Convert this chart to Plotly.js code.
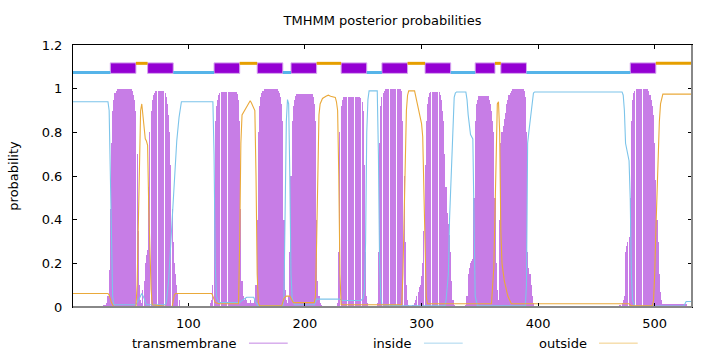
<!DOCTYPE html>
<html><head><meta charset="utf-8">
<script src="https://cdn.plot.ly/plotly-3.0.1.min.js"></script>
<style>html,body{margin:0;padding:0;background:#fff}#chart{width:720px;height:352px}</style>
</head><body><div id="chart"></div>
<script>
// ---- data ----
const seqLength = 532;
const xTicks = [100, 200, 300, 400, 500];
const yTicks = [0, 0.2, 0.4, 0.6, 0.8, 1, 1.2];
const seriesNames = ['transmembrane', 'inside', 'outside'];

// transmembrane posterior (impulses), per residue, stored as contiguous runs
const tmRunStarts = [27, 119, 228, 262, 292, 338, 470];
const tmRunValues = [
  [0.01,0.01,0.01,0.02,0.05,0.17,0.45,0.75,0.9,0.95,0.98,0.99,
   1,1,1,1,1,1,1,1,1,1,1,1,1,
   0.99,0.97,0.95,0.9,0.7,0.35,0.1,0.03,0.02,0.08,0.12,0.2,0.24,0.26,
   0.55,0.8,0.9,0.95,0.97,0.98,0.99,0.99,0.99,0.99,0.99,0.99,0.99,0.99,
   0.98,0.96,0.93,0.88,0.8,0.65,0.45,0.3,0.2,0.15,0.1,0.06,0.03],
  [0.02,0.03,0.1,0.5,0.85,0.92,0.95,0.97,0.98,
   0.985,0.985,0.985,0.985,0.985,0.985,0.985,0.985,0.985,0.985,0.985,0.985,0.985,0.985,
   0.975,0.95,0.85,0.45,0.12,0.05,0.03,0.04,0.03,0.02,0.02,0.03,0.02,0.02,0.02,0.03,0.1,
   0.4,0.8,0.92,0.96,0.98,0.99,
   1,1,1,1,1,1,1,1,1,1,1,1,
   0.99,0.98,0.96,0.93,0.85,0.4,0.08,0.03,0.02,0.05,0.25,
   0.6,0.85,0.92,0.95,0.965,
   0.975,0.975,0.975,0.975,0.975,0.975,0.975,0.975,0.975,0.975,0.975,0.975,0.975,0.975,
   0.96,0.93,0.85,0.4,0.12,0.05,0.02,0.01],
  [0.02,0.25,0.8,0.92,0.95,
   0.963,0.963,0.963,0.963,0.963,0.963,0.963,0.963,0.963,0.963,0.963,0.963,0.963,0.963,0.963,
   0.955,0.94,0.9,0.65,0.25,0.05,0.02],
  [0.02,0.25,0.75,0.92,0.96,0.98,0.99,
   1,1,1,1,1,1,1,1,1,1,1,1,1,1,
   0.99,0.85,0.6,0.3,0.1,0.03,0.01],
  [0.01,0.01,0.02,0.03,0.05,0.07,0.09,0.1,0.14,0.2,0.35,0.65,0.85,0.93,0.96,0.98,
   0.985,0.985,0.985,0.985,0.985,0.985,0.985,0.985,
   0.97,0.95,0.9,0.85,0.7,0.55,0.43,0.38,0.33,0.25,0.12,0.03,0.01],
  [0.01,0.05,0.15,0.18,0.2,0.21,0.22,0.5,0.85,0.93,0.95,
   0.967,0.967,0.967,0.967,0.967,0.967,0.967,0.967,0.967,
   0.95,0.93,0.9,0.85,0.8,0.5,0.2,0.08,0.03,
   0.4,0.75,0.8,0.83,0.86,0.89,0.93,0.95,0.97,0.98,0.99,
   1,1,1,1,1,1,1,1,1,1,
   0.99,0.96,0.8,0.25,0.18,0.15,0.1,0.05,0.02],
  [0.01,0.01,0.02,0.03,0.05,0.25,0.28,0.3,0.32,0.5,0.85,0.95,0.98,0.99,
   1,1,1,1,1,1,1,1,1,1,1,
   0.99,0.97,0.95,0.92,0.88,0.75,0.58,0.4,0.3,0.15,0.07,0.03,
   0.014,0.014,0.014,0.014,0.014,0.014,0.014,0.014,0.014,0.014,0.014,
   0.014,0.014,0.014,0.014,0.014,0.014,0.014,0.014,0.014,0.014]
];

// inside posterior (line), read at breakpoints
const insideX = [1,31,32,33,34,35,36,55,58,60,62,64,80,81,83,85,87,88,90,92,94,121,122,123,124,126,144,146,150,156,158,160,181,182,183,184,185,186,187,188,189,191,208,210,230,232,248,250,251,252,253,254,255,262,263,264,265,266,283,320,321,323,324,325,326,327,328,329,330,338,339,340,341,342,344,345,346,348,389,390,391,392,393,394,395,396,397,472,473,474,475,477,478,479,480,481,483,525,527,532];
const insideY = [0.94,0.94,0.9,0.6,0.2,0.05,0.01,0.01,0.04,0.062,0.04,0.01,0.01,0.02,0.12,0.3,0.52,0.62,0.76,0.87,0.94,0.94,0.7,0.2,0.05,0.02,0.02,0.03,0.045,0.045,0.02,0.005,0.005,0.05,0.4,0.85,0.95,0.93,0.6,0.15,0.04,0.01,0.01,0.036,0.036,0.03,0.03,0.04,0.08,0.3,0.8,0.95,0.99,0.99,0.7,0.2,0.05,0.01,0.005,0.005,0.03,0.15,0.4,0.55,0.75,0.9,0.96,0.98,0.985,0.985,0.95,0.88,0.82,0.79,0.77,0.4,0.05,0.005,0.005,0.1,0.75,0.8,0.85,0.9,0.95,0.98,0.985,0.985,0.97,0.9,0.75,0.7,0.67,0.5,0.15,0.03,0.003,0.005,0.025,0.025];

// outside posterior (line), read at breakpoints
const outsideX = [1,31,32,34,36,55,56,57,58,59,60,61,62,63,64,65,66,67,68,69,86,87,88,89,120,121,123,126,143,144,145,146,148,150,152,153,154,156,157,158,159,160,161,180,182,184,187,189,190,208,209,210,211,212,213,215,218,220,222,226,227,228,229,230,231,283,284,285,286,287,288,289,294,296,298,300,301,302,303,304,305,360,361,362,363,364,365,366,367,368,369,371,374,377,478,480,498,499,500,501,502,503,504,505,506,507,532];
const outsideY = [0.062,0.062,0.055,0.02,0,0,0.1,0.4,0.75,0.9,0.93,0.88,0.82,0.77,0.76,0.74,0.45,0.2,0.08,0.01,0,0.03,0.055,0.062,0.062,0.05,0.02,0.015,0.015,0.3,0.75,0.88,0.9,0.92,0.935,0.945,0.935,0.91,0.9,0.6,0.15,0.02,0.005,0.005,0.04,0.05,0.05,0.03,0.02,0.02,0.05,0.3,0.7,0.88,0.93,0.955,0.965,0.97,0.965,0.96,0.94,0.9,0.6,0.15,0.01,0.01,0.15,0.4,0.7,0.9,0.97,0.99,0.99,0.94,0.9,0.84,0.78,0.55,0.25,0.05,0.015,0.015,0.1,0.18,0.43,0.73,0.93,0.94,0.8,0.35,0.2,0.12,0.05,0.015,0.015,0.005,0.005,0.03,0.15,0.35,0.55,0.75,0.85,0.93,0.96,0.975,0.975];

// predicted topology (top strip)
const tmSegStart  = [33, 65, 122, 159, 188, 231, 266, 303, 346, 368, 479];
const tmSegEnd    = [55, 87, 144, 181, 210, 253, 288, 325, 363, 390, 501];
const inSegStart  = [1, 87, 181, 253, 325, 390];
const inSegEnd    = [33, 122, 188, 266, 346, 479];
const outSegStart = [55, 144, 210, 288, 363, 501];
const outSegEnd   = [65, 159, 231, 303, 368, 532];

// ---- build traces ----
const tmX = [], tmY = [];
tmRunStarts.forEach((s, k) => tmRunValues[k].forEach((v, i) => { tmX.push(s + i); tmY.push(v); }));

function segLine(starts, ends) {
  const x = [];
  starts.forEach((s, i) => { x.push(s, ends[i], null); });
  return x;
}
const inLineX = segLine(inSegStart, inSegEnd);
const outLineX = segLine(outSegStart, outSegEnd);

const traces = [
  { type: 'bar', x: tmX, y: tmY, width: 0.93, name: seriesNames[0],
    marker: { color: '#c77de6', line: { width: 0 } }, hoverinfo: 'x+y' },
  { type: 'scatter', mode: 'lines', x: insideX, y: insideY, name: seriesNames[1],
    line: { color: '#7cc4ea', width: 1.1 } },
  { type: 'scatter', mode: 'lines', x: outsideX, y: outsideY, name: seriesNames[2],
    line: { color: '#eaa93a', width: 1.1 } },
  { type: 'scatter', mode: 'lines', x: inLineX, y: inLineX.map(v => v === null ? null : 1.074),
    line: { color: '#56b4e9', width: 3 }, hoverinfo: 'skip', connectgaps: false },
  { type: 'scatter', mode: 'lines', x: outLineX, y: outLineX.map(v => v === null ? null : 1.116),
    line: { color: '#e69f00', width: 3 }, hoverinfo: 'skip', connectgaps: false },
  { type: 'bar', x: tmSegStart.map((s, i) => (s + tmSegEnd[i]) / 2),
    width: tmSegStart.map((s, i) => tmSegEnd[i] - s),
    y: tmSegStart.map(() => 0.048), base: 1.07,
    marker: { color: '#9400d3', line: { color: '#d6a6ee', width: 1 } }, hoverinfo: 'skip' }
];

const axisCommon = {
  ticks: 'inside', ticklen: 4, tickcolor: '#000', tickwidth: 1,
  showline: true, mirror: 'ticks', linecolor: '#000', linewidth: 1,
  showgrid: false, zeroline: false, tickfont: { size: 13, color: '#000' }
};

const legendTextX = [0.2685, 0.5509, 0.8336];
const legendLineX = [[0.2843, 0.3469], [0.567, 0.6296], [0.8498, 0.9123]];
const legendColors = ['#c384e4', '#a9d6ee', '#f2cd85'];
const legendY = -0.138;

const annotations = seriesNames.map((n, i) => ({
  text: n, xref: 'paper', yref: 'paper', x: legendTextX[i], y: legendY,
  xanchor: 'right', yanchor: 'middle', showarrow: false, font: { size: 13, color: '#000' }
}));
const shapes = seriesNames.map((n, i) => ({
  type: 'line', xref: 'paper', yref: 'paper', x0: legendLineX[i][0], x1: legendLineX[i][1],
  y0: legendY, y1: legendY, line: { color: legendColors[i], width: 1 }
}));
shapes.push({ type: 'line', xref: 'paper', yref: 'paper', x0: 0, x1: 1, y0: 0, y1: 0, line: { color: '#888', width: 2 } });
shapes.push({ type: 'line', xref: 'paper', yref: 'paper', x0: 1, x1: 1, y0: 0, y1: 1, line: { color: '#888', width: 2 } });

const layout = {
  width: 720, height: 352,
  margin: { l: 73, r: 28, t: 45, b: 45, pad: 0 },
  paper_bgcolor: '#fff', plot_bgcolor: '#fff',
  font: { family: 'DejaVu Sans', size: 13, color: '#000' },
  title: { text: 'TMHMM posterior probabilities', x: 0.5, xref: 'paper', xanchor: 'center',
           y: 1 - 20 / 352, yref: 'container', yanchor: 'middle', font: { size: 13, color: '#000' } },
  showlegend: false,
  barmode: 'overlay', bargap: 0,
  xaxis: Object.assign({}, axisCommon, { range: [1, seqLength], tickmode: 'array', tickvals: xTicks,
           ticktext: xTicks.map(String), ticklabelstandoff: 4 }),
  yaxis: Object.assign({}, axisCommon, { range: [0, 1.2], tickmode: 'array', tickvals: yTicks,
           ticktext: yTicks.map(String), ticklabelstandoff: 7,
           title: { text: 'probability', standoff: 20, font: { size: 13, color: '#000' } } }),
  annotations: annotations,
  shapes: shapes
};

Plotly.newPlot('chart', traces, layout, { displayModeBar: false, staticPlot: true });
</script>
</body></html>
